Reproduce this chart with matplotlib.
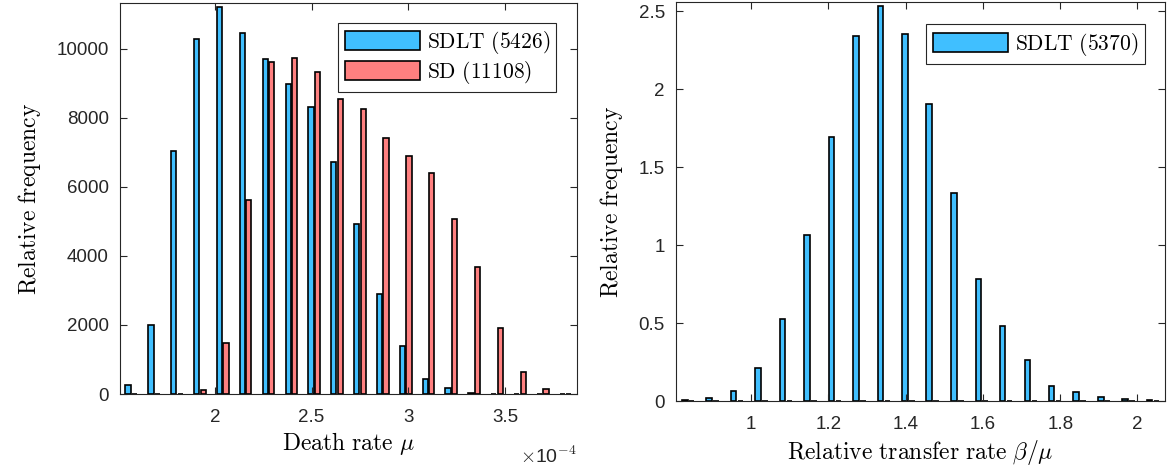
import matplotlib
matplotlib.use('Agg')
import matplotlib.pyplot as plt
import matplotlib.ticker as ticker
import numpy as np

# Left panel: death rate histogram (bin centres in 1/time units)
death_centers = [1.569e-4, 1.687e-4, 1.805e-4, 1.923e-4, 2.041e-4, 2.159e-4, 2.277e-4,
                 2.396e-4, 2.514e-4, 2.632e-4, 2.750e-4, 2.868e-4, 2.986e-4, 3.104e-4,
                 3.222e-4, 3.340e-4, 3.458e-4, 3.576e-4, 3.694e-4, 3.812e-4]
sdlt_death = [250, 2000, 7030, 10290, 11200, 10460, 9700, 8970, 8310, 6710,
              4930, 2900, 1400, 434, 182, 35, 8, 0, 0, 0]
sd_death = [0, 0, 0, 116, 1466, 5620, 9600, 9740, 9320, 8530,
            8250, 7400, 6890, 6390, 5070, 3690, 1920, 645, 150, 12]

# Right panel: relative transfer rate histogram
beta_centers = [0.837, 0.900, 0.963, 1.027, 1.090, 1.154, 1.217, 1.280, 1.344, 1.407,
                1.470, 1.534, 1.597, 1.660, 1.724, 1.787, 1.850, 1.914, 1.977, 2.040]
sdlt_beta = [0.006, 0.018, 0.062, 0.215, 0.525, 1.065, 1.692, 2.342, 2.532, 2.355,
             1.905, 1.333, 0.785, 0.482, 0.262, 0.098, 0.056, 0.028, 0.012, 0.004]

legend_left = [r'$\mathrm{SDLT\ (5426)}$', r'$\mathrm{SD\ (11108)}$']
legend_right = r'$\mathrm{SDLT\ (5370)}$'

BLUE = '#40BFFF'
RED = '#FF8080'
AXC = '#262626'

plt.rcParams['mathtext.fontset'] = 'cm'
plt.rcParams['font.family'] = ['Liberation Sans', 'DejaVu Sans']
plt.rcParams['axes.edgecolor'] = AXC
plt.rcParams['xtick.color'] = AXC
plt.rcParams['ytick.color'] = AXC


def style_axes(ax):
    ax.tick_params(direction='in', length=5, width=0.8, top=True, right=True,
                   labelsize=13.5, labelcolor=AXC)
    ax.tick_params(axis='x', pad=11)
    ax.tick_params(axis='y', pad=8)
    for s in ax.spines.values():
        s.set_linewidth(0.8)


fig = plt.figure(figsize=(11.68, 4.70), dpi=100)

# Panel 1: death rate
ax1 = fig.add_axes([0.1027, 0.1617, 0.3913, 0.8320])
x1 = np.array(death_centers)
d1 = x1[1] - x1[0]
off = 0.1429 * d1
w = 0.2286 * d1
ax1.bar(x1 - off, sdlt_death, width=w, color=BLUE, edgecolor='black', linewidth=1.2,
        label=legend_left[0])
ax1.bar(x1 + off, sd_death, width=w, color=RED, edgecolor='black', linewidth=1.2,
        label=legend_left[1])
ax1.set_xlim(x1[0] - d1 / 2, x1[-1] + d1 / 2)
ax1.set_ylim(0, 11320)
ax1.set_xticks([2e-4, 2.5e-4, 3e-4, 3.5e-4])
ax1.xaxis.set_major_formatter(ticker.FuncFormatter(lambda v, p: f'{v / 1e-4:g}'))
ax1.set_yticks(np.arange(0, 10001, 2000))
style_axes(ax1)
ax1.set_xlabel(r'$\mathrm{Death\ rate}\ \mu$', fontsize=17, labelpad=3)
ax1.set_ylabel(r'$\mathrm{Relative\ frequency}$', fontsize=17, labelpad=10)
ax1.text(1.0, -0.16, r'$\times$10$^{\mathsf{-4}}$', transform=ax1.transAxes,
         ha='right', va='center', fontsize=14, color=AXC)
leg1 = ax1.legend(loc='upper right', bbox_to_anchor=(0.955, 0.95), fontsize=15.5,
                  handlelength=3.5, handleheight=1.0, handletextpad=0.3,
                  labelspacing=0.12, borderpad=0.3, fancybox=False, framealpha=1,
                  edgecolor=AXC, borderaxespad=0)
leg1.get_frame().set_linewidth(0.8)

# Panel 2: relative transfer rate
ax2 = fig.add_axes([0.5788, 0.1466, 0.4187, 0.8485])
x2 = np.array(beta_centers)
d2 = x2[1] - x2[0]
off2 = 0.1429 * d2
w2 = 0.2286 * d2
ax2.bar(x2 - off2, sdlt_beta, width=w2, color=BLUE, edgecolor='black', linewidth=1.2,
        label=legend_right)
ax2.bar(x2 + off2, np.zeros(len(x2)), width=w2, color=RED, edgecolor='black',
        linewidth=1.2)
ax2.set_xlim(x2[0] - d2 / 2, x2[-1] + d2 / 2)
ax2.set_ylim(0, 2.558)
ax2.set_xticks([1, 1.2, 1.4, 1.6, 1.8, 2])
ax2.xaxis.set_major_formatter(ticker.FuncFormatter(lambda v, p: f'{v:g}'))
ax2.set_yticks([0, 0.5, 1, 1.5, 2, 2.5])
ax2.yaxis.set_major_formatter(ticker.FuncFormatter(lambda v, p: f'{v:g}'))
style_axes(ax2)
ax2.set_xlabel(r'$\mathrm{Relative\ transfer\ rate}\ \beta/\mu$', fontsize=17, labelpad=3)
ax2.set_ylabel(r'$\mathrm{Relative\ frequency}$', fontsize=17, labelpad=10)
leg2 = ax2.legend(loc='upper right', bbox_to_anchor=(0.958, 0.945), fontsize=15.5,
                  handlelength=3.5, handleheight=1.0, handletextpad=0.3,
                  borderpad=0.3, fancybox=False, framealpha=1,
                  edgecolor=AXC, borderaxespad=0)
leg2.get_frame().set_linewidth(0.8)

fig.savefig('out.png', dpi=100)
